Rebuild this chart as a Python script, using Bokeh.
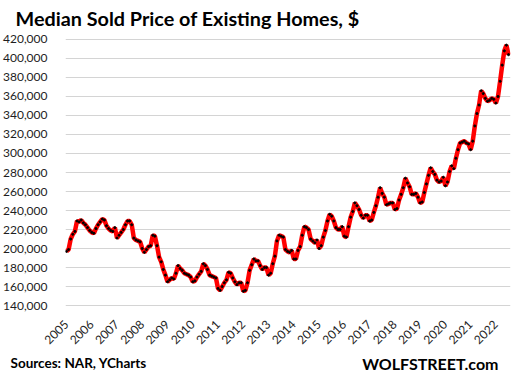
import math
from bokeh.plotting import figure
from bokeh.layouts import column
from bokeh.models import FixedTicker, NumeralTickFormatter, ColumnDataSource
from bokeh.core.properties import value
from bokeh.embed import file_html
from bokeh.resources import INLINE

# Median sold price of existing homes, monthly, $
years = list(range(2005, 2023))
p2005 = [197000, 199000, 210000, 215000, 218000, 229000, 228000, 230000, 227000, 225000, 222000, 219000]
p2006 = [217000, 216000, 221000, 225000, 228000, 231000, 230000, 224000, 221000, 219000, 218000, 222000]
p2007 = [211000, 214000, 217000, 220000, 225000, 229000, 229000, 225000, 211000, 209000, 208000, 207000]
p2008 = [200000, 196000, 199000, 202000, 203000, 214000, 213000, 203000, 191000, 186000, 178000, 172000]
p2009 = [165000, 167000, 169000, 168000, 174000, 182000, 179000, 177000, 174000, 173000, 172000, 170000]
p2010 = [165000, 166000, 170000, 173000, 176000, 184000, 182000, 178000, 172000, 171000, 170000, 169000]
p2011 = [158000, 156000, 160000, 164000, 167000, 175000, 174000, 169000, 165000, 162000, 164000, 164000]
p2012 = [155000, 156000, 164000, 177000, 183000, 189000, 187000, 187000, 182000, 178000, 180000, 180000]
p2013 = [172000, 174000, 184000, 192000, 208000, 214000, 213000, 212000, 199000, 197000, 196000, 198000]
p2014 = [189000, 189000, 198000, 202000, 214000, 223000, 222000, 220000, 210000, 208000, 206000, 209000]
p2015 = [200000, 203000, 212000, 219000, 229000, 236000, 234000, 229000, 222000, 220000, 220000, 223000]
p2016 = [213000, 212000, 223000, 233000, 239000, 248000, 245000, 241000, 235000, 232000, 235000, 235000]
p2017 = [229000, 230000, 238000, 245000, 254000, 264000, 258000, 254000, 246000, 247000, 248000, 248000]
p2018 = [241000, 242000, 251000, 257000, 264000, 274000, 269000, 265000, 257000, 257000, 258000, 254000]
p2019 = [248000, 249000, 259000, 268000, 277000, 285000, 281000, 278000, 272000, 270000, 271000, 275000]
p2020 = [266000, 270000, 281000, 287000, 284000, 295000, 304000, 311000, 312000, 313000, 311000, 310000]
p2021 = [304000, 313000, 329000, 342000, 351000, 366000, 363000, 358000, 355000, 356000, 358000, 357000]
p2022 = [353000, 360000, 376000, 393000, 408000, 414000, 404000]
series = [p2005, p2006, p2007, p2008, p2009, p2010, p2011, p2012, p2013,
          p2014, p2015, p2016, p2017, p2018, p2019, p2020, p2021, p2022]
y_ticks = list(range(140000, 420001, 20000))

title_text = "Median Sold Price of Existing Homes, $"
source_text = "Sources: NAR, YCharts"
brand_text = "WOLFSTREET.com"

xs, ys = [], []
for yr, vals in zip(years, series):
    for m, v in enumerate(vals):
        xs.append(yr + m / 12.0)
        ys.append(v)
src = ColumnDataSource(dict(x=xs, y=ys))

FONT = "Lato"
W = 514


def text_strip(h):
    f = figure(width=W, height=h, output_backend="svg", toolbar_location=None,
               x_range=(0, W), y_range=(h, 0), x_axis_type=None, y_axis_type=None,
               min_border=0, min_border_left=0, min_border_right=0,
               min_border_top=0, min_border_bottom=0, frame_align=False)
    f.outline_line_color = None
    f.background_fill_color = "white"
    f.border_fill_color = "white"
    return f


# header with title
head = text_strip(31)
head.text(x=[15], y=[17], text=[title_text], text_font=value(FONT),
          text_font_style="bold", text_font_size="19.8px", text_color="black",
          text_baseline="alphabetic", text_align="left")

# main chart
p = figure(width=W, height=319, output_backend="svg", toolbar_location=None,
           x_range=(2004.961, 2022.578), y_range=(139000, 421000),
           min_border_left=59, min_border_right=4, min_border_top=7, min_border_bottom=40,
           frame_align=False)
p.outline_line_color = None
p.background_fill_color = "white"
p.border_fill_color = "white"

p.line("x", "y", source=src, line_color="#ff0000", line_width=4.5)
p.scatter("x", "y", source=src, size=2.1, fill_color="black", line_color="black")

p.yaxis.ticker = FixedTicker(ticks=y_ticks)
p.yaxis.formatter = NumeralTickFormatter(format="0,0")
p.xaxis.ticker = FixedTicker(ticks=years)
p.xaxis.major_label_overrides = {y: str(y) for y in years}
p.xaxis.major_label_orientation = math.pi / 4
for ax in (p.xaxis, p.yaxis):
    ax.axis_line_color = None
    ax.major_tick_line_color = None
    ax.minor_tick_line_color = None
    ax.major_label_text_font = FONT
    ax.major_label_text_font_size = "12px"
    ax.major_label_text_color = "#1e1e1e"
p.yaxis.major_label_standoff = 12
p.xaxis.major_label_standoff = 10

p.xgrid.grid_line_color = None
p.ygrid.grid_line_color = "#d4d4d4"
p.ygrid.grid_line_width = 1

# footer
foot = text_strip(26)
foot.text(x=[10], y=[12.5], text=[source_text], text_font=value(FONT),
          text_font_style="bold", text_font_size="13.5px", text_color="black",
          text_baseline="alphabetic", text_align="left")
foot.text(x=[498], y=[12.5], text=[brand_text], text_font=value(FONT),
          text_font_style="bold", text_font_size="16px", text_color="black",
          text_baseline="alphabetic", text_align="right")

layout = column(head, p, foot, spacing=0)
open("out.html", "w").write(file_html(layout, INLINE))
